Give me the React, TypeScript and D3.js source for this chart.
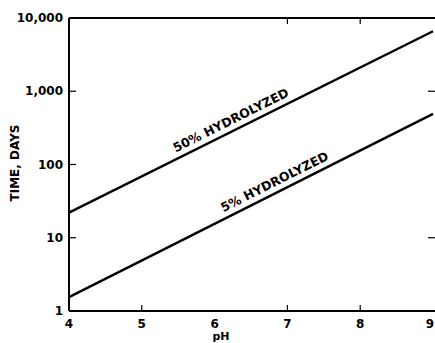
import React from 'react';
import * as d3 from 'd3';

const phTicks = [4, 5, 6, 7, 8, 9];
const timeTicks = [1, 10, 100, 1000, 10000];
const timeTickLabels = ['1', '10', '100', '1,000', '10,000'];
const phEnds = [4, 9];
const days50 = [22, 6600];
const days5 = [1.55, 490];

const App = () => {
  const width = 435;
  const height = 343;
  const x = d3.scaleLinear().domain([4, 9]).range([69, 433]);
  const y = d3.scaleLog().domain([1, 10000]).range([311, 18]);
  const line = d3.line<[number, number]>().x(d => x(d[0])).y(d => y(d[1]));
  const pts50 = phEnds.map((p, i) => [p, days50[i]] as [number, number]);
  const pts5 = phEnds.map((p, i) => [p, days5[i]] as [number, number]);
  const angle = (pts: [number, number][]) =>
    (Math.atan2(y(pts[1][1]) - y(pts[0][1]), x(pts[1][0]) - x(pts[0][0])) * 180) / Math.PI;
  const font = "'DejaVu Sans', sans-serif";
  // point on a log-linear line at a given pH, for placing the line labels
  const lab = (pts: [number, number][], ph: number) => {
    const t = (ph - pts[0][0]) / (pts[1][0] - pts[0][0]);
    const v = Math.exp(Math.log(pts[0][1]) + t * (Math.log(pts[1][1]) - Math.log(pts[0][1])));
    return [x(ph), y(v)];
  };
  const l50 = lab(pts50, 6.25);
  const l5 = lab(pts5, 6.85);

  return (
    <svg width={width} height={height} style={{ position: 'absolute', left: 0, top: 0 }}>
      <rect width={width} height={height} fill="#fff" />
      <g stroke="#000" strokeWidth={2} fill="none">
        <line x1={x(4)} x2={x(4)} y1={y(1)} y2={y(10000)} />
        <line x1={x(4)} x2={x(9) + 2} y1={y(1)} y2={y(1)} />
        <line x1={x(4)} x2={x(9) + 2} y1={y(10000)} y2={y(10000)} />
      </g>
      <g stroke="#000" strokeWidth={1.2}>
        {[5, 7, 8].map(p => (
          <line key={'b' + p} x1={x(p)} x2={x(p)} y1={y(1)} y2={y(1) - 6} />
        ))}
        {[7, 8].map(p => (
          <line key={'t' + p} x1={x(p)} x2={x(p)} y1={y(10000)} y2={y(10000) + 6} />
        ))}
        {[10, 100, 1000].map(v => (
          <line key={'l' + v} x1={x(4)} x2={x(4) + 7} y1={y(v)} y2={y(v)} />
        ))}
        {[10, 1000].map(v => (
          <line key={'r' + v} x1={x(9) - 5} x2={x(9) + 2} y1={y(v)} y2={y(v)} />
        ))}
      </g>
      <path d={line(pts50) ?? ''} stroke="#000" strokeWidth={2.4} fill="none" />
      <path d={line(pts5) ?? ''} stroke="#000" strokeWidth={2.4} fill="none" />
      <g fontFamily={font} fontWeight="bold" fontSize={12}>
        {phTicks.map(p => (
          <text key={p} x={p === 9 ? x(p) - 3 : x(p)} y={328} textAnchor="middle">{p}</text>
        ))}
        {timeTicks.map((v, i) => (
          <text key={v} x={63} y={y(v) + 4} textAnchor="end">{timeTickLabels[i]}</text>
        ))}
        <text x={221} y={340} textAnchor="middle" fontSize={11}>pH</text>
        <text transform={`translate(19,163) rotate(-90)`} textAnchor="middle" fontSize={12}>TIME, DAYS</text>
        <text transform={`translate(${l50[0]},${l50[1] - 7}) rotate(${angle(pts50)})`} textAnchor="middle" fontSize={12.5}>50% HYDROLYZED</text>
        <text transform={`translate(${l5[0]},${l5[1] - 7}) rotate(${angle(pts5)})`} textAnchor="middle" fontSize={12.5}>5% HYDROLYZED</text>
      </g>
    </svg>
  );
};

export default App;
